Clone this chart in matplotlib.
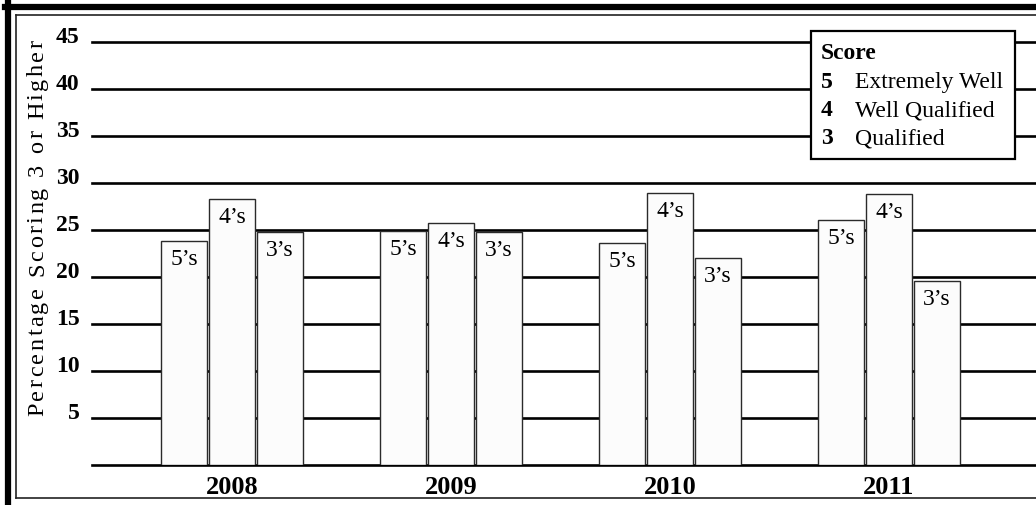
import matplotlib.pyplot as plt
from matplotlib.patches import Rectangle
from matplotlib.lines import Line2D
from matplotlib.font_manager import FontProperties
import numpy as np

# Data
years = ['2008', '2009', '2010', '2011']
bar_labels = ['5’s', '4’s', '3’s']
pct_5 = [23.8, 24.9, 23.6, 26.1]
pct_4 = [28.3, 25.7, 28.9, 28.8]
pct_3 = [24.8, 24.8, 22.0, 19.6]
legend_scores = ['5', '4', '3']
legend_names = ['Extremely Well', 'Well Qualified', 'Qualified']
yticks = [5, 10, 15, 20, 25, 30, 35, 40, 45]
ytitle = 'Percentage Scoring 3 or Higher'

plt.rcParams['font.family'] = ['Liberation Serif', 'DejaVu Serif']

W, H = 1036, 506
fig = plt.figure(figsize=(W / 100, H / 100), dpi=100)


def px(x, y):
    # pixel coords (from top-left) -> figure fraction
    return x / W, 1 - y / H


ax = fig.add_axes([92 / W, 1 - 466 / H, 1 - 92 / W, (466 - 43) / H])
ax.set_xlim(-0.639, 3.671)
ax.set_ylim(0, 45)

# horizontal rules behind the bars
for v in [0] + yticks:
    ax.axhline(v, color='black', lw=1.9, zorder=1, clip_on=False)

x = np.arange(len(years))
offs = 0.219
width = 0.212
series = [pct_5, pct_4, pct_3]
for i, vals in enumerate(series):
    xs = x + (i - 1) * offs
    ax.bar(xs, vals, width=width, facecolor='#fcfcfc', edgecolor='#2a2a2a',
           lw=1.0, zorder=2)
    for xi, v in zip(xs, vals):
        ax.annotate(bar_labels[i], (xi, v), xytext=(0, -5),
                    textcoords='offset points', ha='center', va='top',
                    fontsize=17, zorder=3)

for s in ax.spines.values():
    s.set_visible(False)
ax.set_yticks(yticks)
ax.set_yticklabels([str(t) for t in yticks], fontsize=17, fontweight='bold')
for lab in ax.get_yticklabels():
    lab.set_va('baseline')
ax.set_xticks(x)
ax.set_xticklabels(years, fontsize=19, fontweight='bold')
ax.tick_params(length=0)
ax.tick_params(axis='y', pad=9)
ax.tick_params(axis='x', pad=7)

# y axis title, letter-spaced: place each character along the axis
renderer = fig.canvas.get_renderer()
prop = FontProperties(family='Liberation Serif', size=17.5)
y_top, y_bot = 40, 416
w_l = renderer.get_text_width_height_descent('l', prop, ismath=False)[0]
adv = [0.0]
for k in range(1, len(ytitle) + 1):
    # trailing marker so that spaces count in the advance
    w_m = renderer.get_text_width_height_descent(ytitle[:k] + 'l', prop, ismath=False)[0]
    adv.append(w_m - w_l)
natural = adv[-1]
track = ((y_bot - y_top) - natural) / (len(ytitle) - 1)
for k, ch in enumerate(ytitle):
    if ch == ' ':
        continue
    pos = y_bot - (adv[k] + k * track)
    fig.text(43 / W, 1 - pos / H, ch, rotation=90, fontproperties=prop,
             ha='left', va='baseline', rotation_mode='anchor')

# legend box
lx0, ly0 = px(811, 160)
lx1, ly1 = px(1015, 32)
fig.add_artist(Rectangle((lx0, ly0), lx1 - lx0, ly1 - ly0, transform=fig.transFigure,
                         facecolor='white', edgecolor='black', lw=1.6, zorder=5))
fig.text(*px(821, 59), 'Score', fontsize=17, fontweight='bold',
         ha='left', va='baseline', zorder=6)
for k, (sc, nm) in enumerate(zip(legend_scores, legend_names)):
    yb = 88 + k * 28
    fig.text(*px(821, yb), sc, fontsize=17, fontweight='bold',
             ha='left', va='baseline', zorder=6)
    fig.text(*px(855, yb), nm, fontsize=17, ha='left', va='baseline', zorder=6)

# page frame
fig.add_artist(Line2D([8 / W, 8 / W], [1, 0], transform=fig.transFigure,
                      color='black', lw=4.5))
fig.add_artist(Line2D([5 / W, 1], [1 - 8 / H, 1 - 8 / H], transform=fig.transFigure,
                      color='black', lw=4.5))
fig.add_artist(Line2D([15.5 / W, 15.5 / W], [1 - 15.5 / H, 1 - 499 / H],
                      transform=fig.transFigure, color='#222222', lw=1.2))
fig.add_artist(Line2D([15.5 / W, 1], [1 - 15.5 / H, 1 - 15.5 / H],
                      transform=fig.transFigure, color='#222222', lw=1.2))
fig.add_artist(Line2D([15.5 / W, 1], [1 - 499 / H, 1 - 499 / H],
                      transform=fig.transFigure, color='#222222', lw=1.2))

fig.savefig('out.png', dpi=100)
